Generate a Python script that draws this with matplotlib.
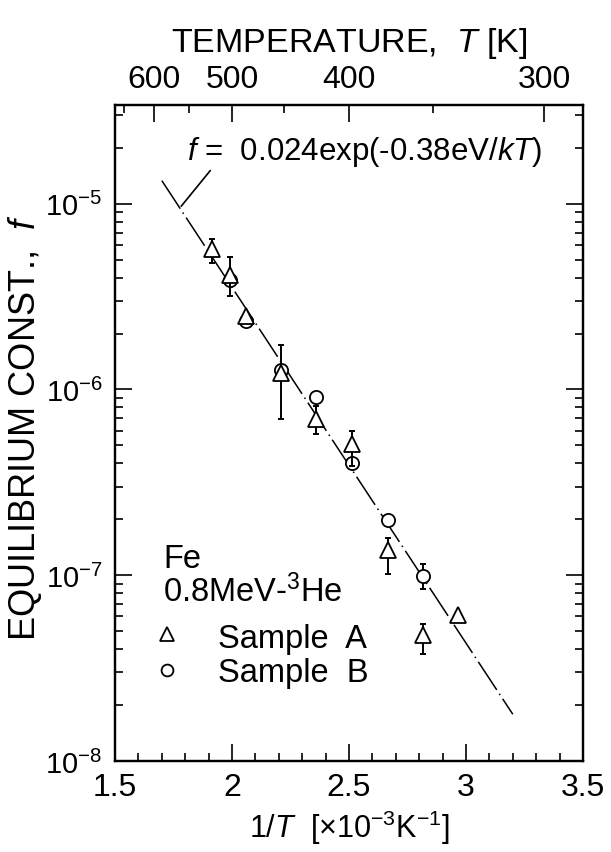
import numpy as np
import matplotlib
matplotlib.use("Agg")
import matplotlib.pyplot as plt
from matplotlib.ticker import LogLocator, FuncFormatter, NullFormatter, FixedLocator, MultipleLocator

plt.rcParams['font.family'] = ['Liberation Sans', 'DejaVu Sans']
plt.rcParams['mathtext.fontset'] = 'custom'
plt.rcParams['mathtext.rm'] = 'Liberation Sans'
plt.rcParams['mathtext.it'] = 'Liberation Sans:italic'
plt.rcParams['mathtext.bf'] = 'Liberation Sans:bold'

# ---- data (x = 1/T in 1e-3 K^-1) ----
sampleA_x = [1.913, 1.991, 2.060, 2.208, 2.358, 2.514, 2.665, 2.816, 2.967]
sampleA_f = [5.73e-6, 4.15e-6, 2.48e-6, 1.23e-6, 6.95e-7, 5.06e-7, 1.36e-7, 4.75e-8, 6.1e-8]
sampleA_hi = [6.49e-6, 5.14e-6, 2.48e-6, 1.73e-6, 8.13e-7, 5.95e-7, 1.58e-7, 5.45e-8, 6.1e-8]
sampleA_lo = [4.82e-6, 3.18e-6, 2.48e-6, 6.9e-7, 5.78e-7, 3.87e-7, 1.01e-7, 3.76e-8, 6.1e-8]

sampleB_x = [1.991, 2.060, 2.208, 2.358, 2.514, 2.665, 2.816]
sampleB_f = [3.90e-6, 2.33e-6, 1.27e-6, 9.1e-7, 4.0e-7, 1.98e-7, 9.9e-8]
sampleB_hi = [3.90e-6, 2.33e-6, 1.27e-6, 9.1e-7, 4.0e-7, 1.98e-7, 1.15e-7]
sampleB_lo = [3.90e-6, 2.33e-6, 1.27e-6, 9.1e-7, 4.0e-7, 1.98e-7, 8.48e-8]

fit_prefactor = 0.024
fit_energy_eV = 0.38
k_B = 8.617e-5  # eV/K
fit_xrange = [1.70, 3.20]

temp_major = [600, 500, 400, 300]
temp_minor = [650, 550, 450, 350]

xlim = (1.5, 3.5)
ylim = (1e-8, 3.4e-5)

# ---- figure ----
fig = plt.figure(figsize=(6.11, 8.53), dpi=100)
ax = fig.add_axes([115/611, 91/853, 468/611, 656/853])

xf = np.linspace(fit_xrange[0], fit_xrange[1], 200)
ff = fit_prefactor * np.exp(-fit_energy_eV / (k_B * 1e3) * xf)
ax.plot(xf, ff, color='black', lw=1.1, dashes=(22, 3, 1, 3), zorder=2)

A_x = np.array(sampleA_x); A_f = np.array(sampleA_f)
B_x = np.array(sampleB_x); B_f = np.array(sampleB_f)
A_err = [A_f - np.array(sampleA_lo), np.array(sampleA_hi) - A_f]
B_err = [B_f - np.array(sampleB_lo), np.array(sampleB_hi) - B_f]

# circles (sample B)
ax.errorbar(B_x, B_f, yerr=B_err, fmt='none', ecolor='black', elinewidth=1.4,
            capsize=2.5, capthick=1.4, zorder=3)
ax.plot(B_x, B_f, 'o', ms=9.5, mfc='white', mec='black', mew=1.3, zorder=4, ls='none')
# triangles (sample A)
ax.errorbar(A_x, A_f, yerr=A_err, fmt='none', ecolor='black', elinewidth=1.4,
            capsize=2.5, capthick=1.4, zorder=5)
ax.plot(A_x, A_f, '^', ms=12, mfc='white', mec='black', mew=1.3, zorder=6, ls='none')

ax.set_xscale('linear')
ax.set_yscale('log')
ax.set_xlim(*xlim)
ax.set_ylim(*ylim)

ax.xaxis.set_major_locator(MultipleLocator(0.5))
ax.xaxis.set_minor_locator(MultipleLocator(0.1))
ax.xaxis.set_major_formatter(FuncFormatter(lambda v, p: ('%g' % v)))
ax.yaxis.set_major_locator(LogLocator(base=10, numticks=10))
ax.yaxis.set_minor_locator(LogLocator(base=10, subs=np.arange(2, 10), numticks=20))
ax.yaxis.set_minor_formatter(NullFormatter())
ax.yaxis.set_major_formatter(FuncFormatter(lambda v, p: r'10$^{%d}$' % int(round(np.log10(v)))))

for sp in ax.spines.values():
    sp.set_linewidth(1.6)
ax.tick_params(which='both', direction='in', width=1.2)
ax.tick_params(axis='x', which='both', top=False, bottom=True, pad=8, labelsize=23)
ax.tick_params(axis='y', which='both', left=True, right=True, pad=9, labelsize=21)
ax.tick_params(which='major', length=12)
ax.tick_params(which='minor', length=6)

ax.set_xlabel(r'1/$\it{T}$  [$\times$10$^{-3}$K$^{-1}$]', fontsize=22, labelpad=4)
ax.set_ylabel(r'EQUILIBRIUM CONST.,  $\it{f}$', fontsize=26)
ax.yaxis.set_label_coords(-0.152, 0.51)

# top temperature axis
ax2 = ax.twiny()
ax2.set_xlim(*xlim)
ax2.xaxis.set_major_locator(FixedLocator([1000.0 / t for t in temp_major]))
ax2.xaxis.set_minor_locator(FixedLocator([1000.0 / t for t in temp_minor]))
ax2.set_xticklabels([str(t) for t in temp_major])
ax2.tick_params(which='both', direction='in', width=1.2, labelsize=23, pad=8)
ax2.tick_params(which='major', length=12)
ax2.tick_params(which='minor', length=6)
ax2.set_xlabel(r'TEMPERATURE,  $\it{T}$ [K]', fontsize=24.5, labelpad=9)
for sp in ax2.spines.values():
    sp.set_linewidth(1.6)

# fit annotation
x_ann = 1.783
f_ann = fit_prefactor * np.exp(-fit_energy_eV / (k_B * 1e3) * x_ann)
ax.annotate(r'$\it{f}$ =  0.024exp(-0.38eV/$\it{kT}$)', xy=(x_ann, f_ann * 1.05),
            xytext=(0.153, 0.918), textcoords='axes fraction', fontsize=22.5,
            ha='left', va='baseline',
            arrowprops=dict(arrowstyle='-', lw=1.2, color='black',
                            shrinkA=0, shrinkB=0, relpos=(0.073, 0.0)))

# in-plot legend text
ax.text(0.1026, 0.2957, 'Fe', transform=ax.transAxes, fontsize=23.5, ha='left', va='baseline')
ax.text(0.1026, 0.2439, r'0.8MeV-$^{3}$He', transform=ax.transAxes, fontsize=23.5,
        ha='left', va='baseline')
ax.plot([0.1111], [0.1936], '^', ms=10, mfc='white', mec='black', mew=1.3,
        transform=ax.transAxes, clip_on=False)
ax.plot([0.1111], [0.1387], 'o', ms=8.5, mfc='white', mec='black', mew=1.3,
        transform=ax.transAxes, clip_on=False)
ax.text(0.220, 0.1738, 'Sample  A', transform=ax.transAxes, fontsize=23.5, ha='left', va='baseline')
ax.text(0.220, 0.1220, 'Sample  B', transform=ax.transAxes, fontsize=23.5, ha='left', va='baseline')

fig.savefig('out.png', dpi=100)
